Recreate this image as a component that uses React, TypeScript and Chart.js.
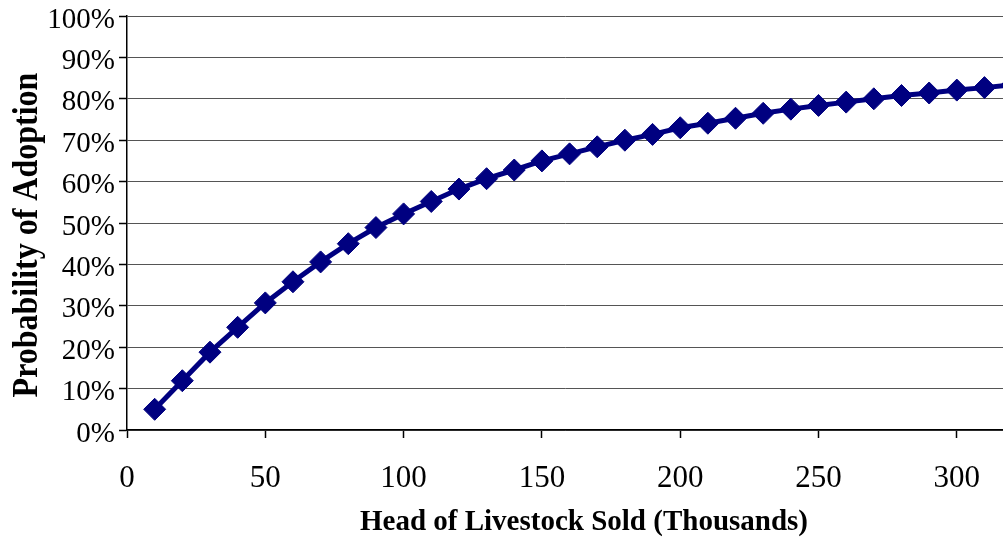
import React, { useEffect, useRef } from 'react';
import { Chart, registerables } from 'chart.js';

Chart.register(...registerables);

const headSold = [10, 20, 30, 40, 50, 60, 70, 80, 90, 100, 110, 120, 130, 140, 150, 160, 170, 180, 190, 200, 210, 220, 230, 240, 250, 260, 270, 280, 290, 300, 310, 320];
const adoptionPct = [5.0, 11.9, 18.8, 24.8, 30.7, 35.8, 40.6, 45.0, 48.9, 52.2, 55.2, 58.2, 60.7, 62.8, 65.0, 66.7, 68.4, 70.0, 71.4, 73.0, 74.1, 75.3, 76.5, 77.5, 78.4, 79.2, 80.0, 80.8, 81.4, 82.1, 82.7, 83.4];
const xTickValues = [0, 50, 100, 150, 200, 250, 300];
const yTickValues = [0, 10, 20, 30, 40, 50, 60, 70, 80, 90, 100];
const xTitle = 'Head of Livestock Sold (Thousands)';
const yTitle = 'Probability of Adoption';

const SERIF = '"Liberation Serif", "Times New Roman", serif';

const titlePlugin = {
  id: 'axisTitles',
  afterDraw(chart: any) {
    const ctx = chart.ctx;
    ctx.save();
    ctx.fillStyle = '#000';
    ctx.textAlign = 'center';
    ctx.textBaseline = 'middle';
    ctx.font = `bold 29px ${SERIF}`;
    ctx.fillText(xTitle, 584, 523);
    ctx.translate(27, 235);
    ctx.rotate(-Math.PI / 2);
    ctx.scale(1, 1.15);
    ctx.font = `bold 32px ${SERIF}`;
    ctx.fillText(yTitle, 0, 0);
    ctx.restore();
  },
};

export default function App() {
  const ref = useRef<HTMLCanvasElement>(null);

  useEffect(() => {
    if (!ref.current) return;
    const chart = new Chart(ref.current, {
      type: 'line',
      data: {
        datasets: [
          {
            data: headSold.map((x, i) => ({ x, y: adoptionPct[i] })),
            borderColor: '#000080',
            backgroundColor: '#000080',
            borderWidth: 5,
            pointStyle: 'rectRot',
            pointRadius: 11,
            pointBorderWidth: 1,
            pointBackgroundColor: '#000080',
            pointBorderColor: '#000080',
            tension: 0,
            fill: false,
          },
        ],
      },
      options: {
        animation: false,
        responsive: false,
        layout: { autoPadding: false, padding: { top: 16, right: 0, bottom: 0, left: 0 } },
        plugins: { legend: { display: false }, tooltip: { enabled: false } },
        scales: {
          x: {
            type: 'linear',
            min: 0,
            max: 316.7,
            afterBuildTicks: (scale: any) => {
              scale.ticks = xTickValues.map((v) => ({ value: v }));
            },
            afterFit: (scale: any) => {
              scale.height = 109;
              scale.paddingLeft = 0;
              scale.paddingRight = 0;
            },
            ticks: {
              font: { family: SERIF, size: 31 },
              color: '#000',
              padding: 22,
              maxRotation: 0,
              autoSkip: false,
            },
            grid: { drawOnChartArea: false, drawTicks: true, tickLength: 8, tickColor: '#000', tickWidth: 1.5 },
            border: { color: '#000', width: 1.5 },
          },
          y: {
            type: 'linear',
            min: 0,
            max: 100,
            afterBuildTicks: (scale: any) => {
              scale.ticks = yTickValues.map((v) => ({ value: v }));
            },
            afterFit: (scale: any) => {
              scale.width = 127;
              scale.paddingTop = 0;
              scale.paddingBottom = 0;
            },
            ticks: {
              font: { family: SERIF, size: 29 },
              color: '#000',
              padding: 4,
              labelOffset: 4,
              callback: (v: any) => `${v}%`,
            },
            grid: { color: '#555', lineWidth: 1, tickLength: 8, tickColor: '#000', tickWidth: 1.5 },
            border: { color: '#000', width: 1.5 },
          },
        },
      },
      plugins: [titlePlugin],
    });
    return () => chart.destroy();
  }, []);

  return (
    <div style={{ position: 'fixed', left: 0, top: 0, width: 1003, height: 539, background: '#fff' }}>
      <canvas ref={ref} width={1003} height={539} />
    </div>
  );
}
